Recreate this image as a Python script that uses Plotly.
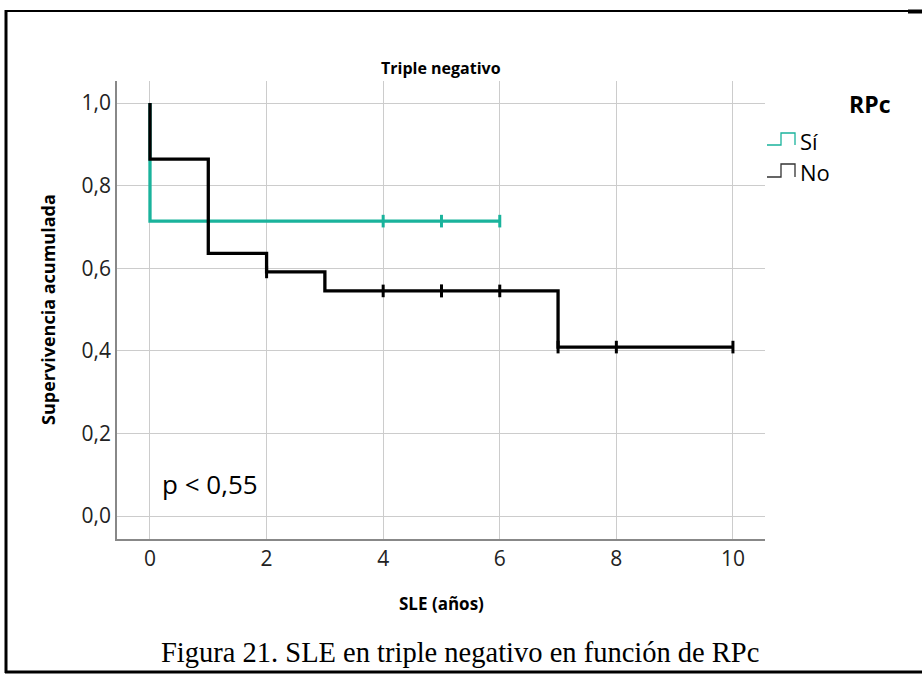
import plotly.graph_objects as go

# Kaplan-Meier step data (time in years, cumulative survival)
si_time = [0, 0, 6]
si_surv = [1.0, 0.714, 0.714]
no_time = [0, 0, 1, 2, 3, 7, 10]
no_surv = [1.0, 0.864, 0.636, 0.591, 0.545, 0.409, 0.409]

# Censored observations
si_cens_time = [4, 5, 6]
si_cens_surv = [0.714, 0.714, 0.714]
no_cens_time = [2, 4, 5, 5, 6, 7, 8, 10]
no_cens_surv = [0.591, 0.545, 0.545, 0.545, 0.545, 0.409, 0.409, 0.409]

x_ticks = [0, 2, 4, 6, 8, 10]
y_ticks = [0.0, 0.2, 0.4, 0.6, 0.8, 1.0]
y_tick_text = ["0,0", "0,2", "0,4", "0,6", "0,8", "1,0"]

TEAL = "#1ab39c"
BLACK = "#000000"
FONT = "Open Sans"

W, H = 922, 675
L, R, T, B = 117, 157, 81, 136
PW, PH = W - L - R, H - T - B


def px(x):
    return (x - L) / PW


def py(y):
    return (H - B - y) / PH


fig = go.Figure()

fig.add_trace(go.Scatter(x=si_time, y=si_surv, mode="lines", line_shape="hv",
                         line=dict(color=TEAL, width=3.3), showlegend=False))
fig.add_trace(go.Scatter(x=no_time, y=no_surv, mode="lines", line_shape="hv",
                         line=dict(color=BLACK, width=3.3), showlegend=False))
fig.add_trace(go.Scatter(x=si_cens_time, y=si_cens_surv, mode="markers",
                         marker=dict(symbol="line-ns", size=9,
                                     line=dict(color=TEAL, width=3)),
                         showlegend=False))
fig.add_trace(go.Scatter(x=no_cens_time, y=no_cens_surv, mode="markers",
                         marker=dict(symbol="line-ns", size=9,
                                     line=dict(color=BLACK, width=3)),
                         showlegend=False))

# Outer figure frame
frame = dict(type="line", xref="paper", yref="paper", line=dict(color="black"))
fig.add_shape(**frame, x0=px(6), x1=px(6), y0=py(10), y1=py(673), line_width=3)
fig.add_shape(**frame, x0=px(5), x1=px(922), y0=py(11), y1=py(11), line_width=2)
fig.add_shape(**frame, x0=px(908), x1=px(922), y0=py(11.5), y1=py(11.5), line_width=4)
fig.add_shape(**frame, x0=px(5), x1=px(922), y0=py(672), y1=py(672), line_width=3)


# Legend with step glyphs
def step_glyph(x0, xm, x1, ylo, yhi, color):
    path = (f"M {px(x0)},{py(ylo)} L {px(xm)},{py(ylo)} L {px(xm)},{py(yhi)} "
            f"L {px(x1)},{py(yhi)} L {px(x1)},{py(ylo)}")
    fig.add_shape(type="path", xref="paper", yref="paper", path=path,
                  line=dict(color=color, width=1.3))


step_glyph(767, 781, 795, 145, 133, TEAL)
step_glyph(767, 781, 795, 177, 164, "#333333")


def label(x, y, text, size, family=FONT, xanchor="center", angle=0, xref="paper", yref="paper"):
    fig.add_annotation(x=x, y=y, xref=xref, yref=yref, text=text, showarrow=False,
                       xanchor=xanchor, yanchor="middle", textangle=angle,
                       font=dict(family=family, size=size, color="black"))


label(px(870), py(104), "<b>RPc</b>", 23)
label(px(798), py(141), "Sí", 22, xanchor="left")
label(px(798), py(172), "No", 22, xanchor="left")

# Titles and labels
label(0.5, py(68), "<b>Triple negativo</b>", 16)
label(0.5, py(603), "<b>SLE (años)</b>", 17)
label(px(48), py(310), "<b>Supervivencia acumulada</b>", 18, angle=-90)
label(0.17, 0.077, "p < 0,55", 26, xanchor="left", xref="x", yref="y")
label(px(460), py(652), "Figura 21. SLE en triple negativo en función de RPc",
      28.5, family="Liberation Serif")

fig.update_xaxes(range=[-0.566, 10.55], tickvals=x_ticks,
                 showgrid=True, gridcolor="#cccccc", gridwidth=1,
                 zeroline=False, showline=True, linecolor="#888888", linewidth=1.5,
                 ticks="", tickfont=dict(family=FONT, size=21, color="#222222"))
fig.update_yaxes(range=[-0.0557, 1.0533], tickvals=y_ticks, ticktext=y_tick_text,
                 showgrid=True, gridcolor="#cccccc", gridwidth=1,
                 zeroline=False, showline=True, linecolor="#888888", linewidth=1.5,
                 ticks="", tickfont=dict(family=FONT, size=21, color="#222222"))

fig.update_layout(width=W, height=H, margin=dict(l=L, r=R, t=T, b=B),
                  plot_bgcolor="white", paper_bgcolor="white",
                  showlegend=False)

fig.write_html("out.html")
